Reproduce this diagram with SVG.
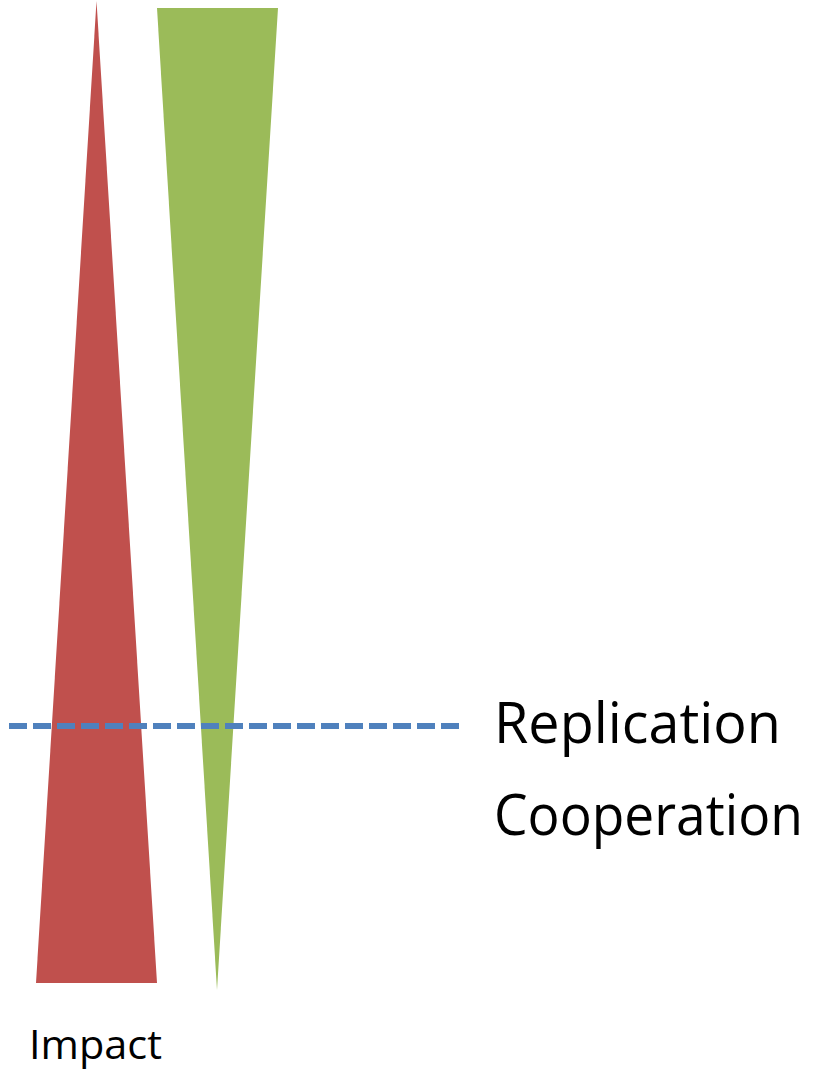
<svg xmlns="http://www.w3.org/2000/svg" width="817" height="1070" viewBox="0 0 817 1070">
<style>
.lbl{font-family:"Open Sans","Liberation Sans",sans-serif;fill:#000;}
</style>
<rect width="817" height="1070" fill="#fff"/>
<g id="impact-wedge"><polygon points="96.5,1 157,983 36,983" fill="#c0504d"/></g>
<g id="cooperation-wedge"><polygon points="157,8 278,8 217,990" fill="#9bbb59"/></g>
<g id="connectors"><line x1="9" y1="726" x2="459" y2="726" stroke="#4f81bd" stroke-width="6" stroke-dasharray="18 6"/></g>
<g id="replication-label"><text class="lbl" x="494" y="743" font-size="57" textLength="287" lengthAdjust="spacingAndGlyphs">Replication</text></g>
<g id="cooperation-label"><text class="lbl" x="494" y="835" font-size="56" textLength="309" lengthAdjust="spacingAndGlyphs">Cooperation</text></g>
<g id="impact-label"><text class="lbl" x="29" y="1059" font-size="41" textLength="133" lengthAdjust="spacingAndGlyphs">Impact</text></g>
</svg>
